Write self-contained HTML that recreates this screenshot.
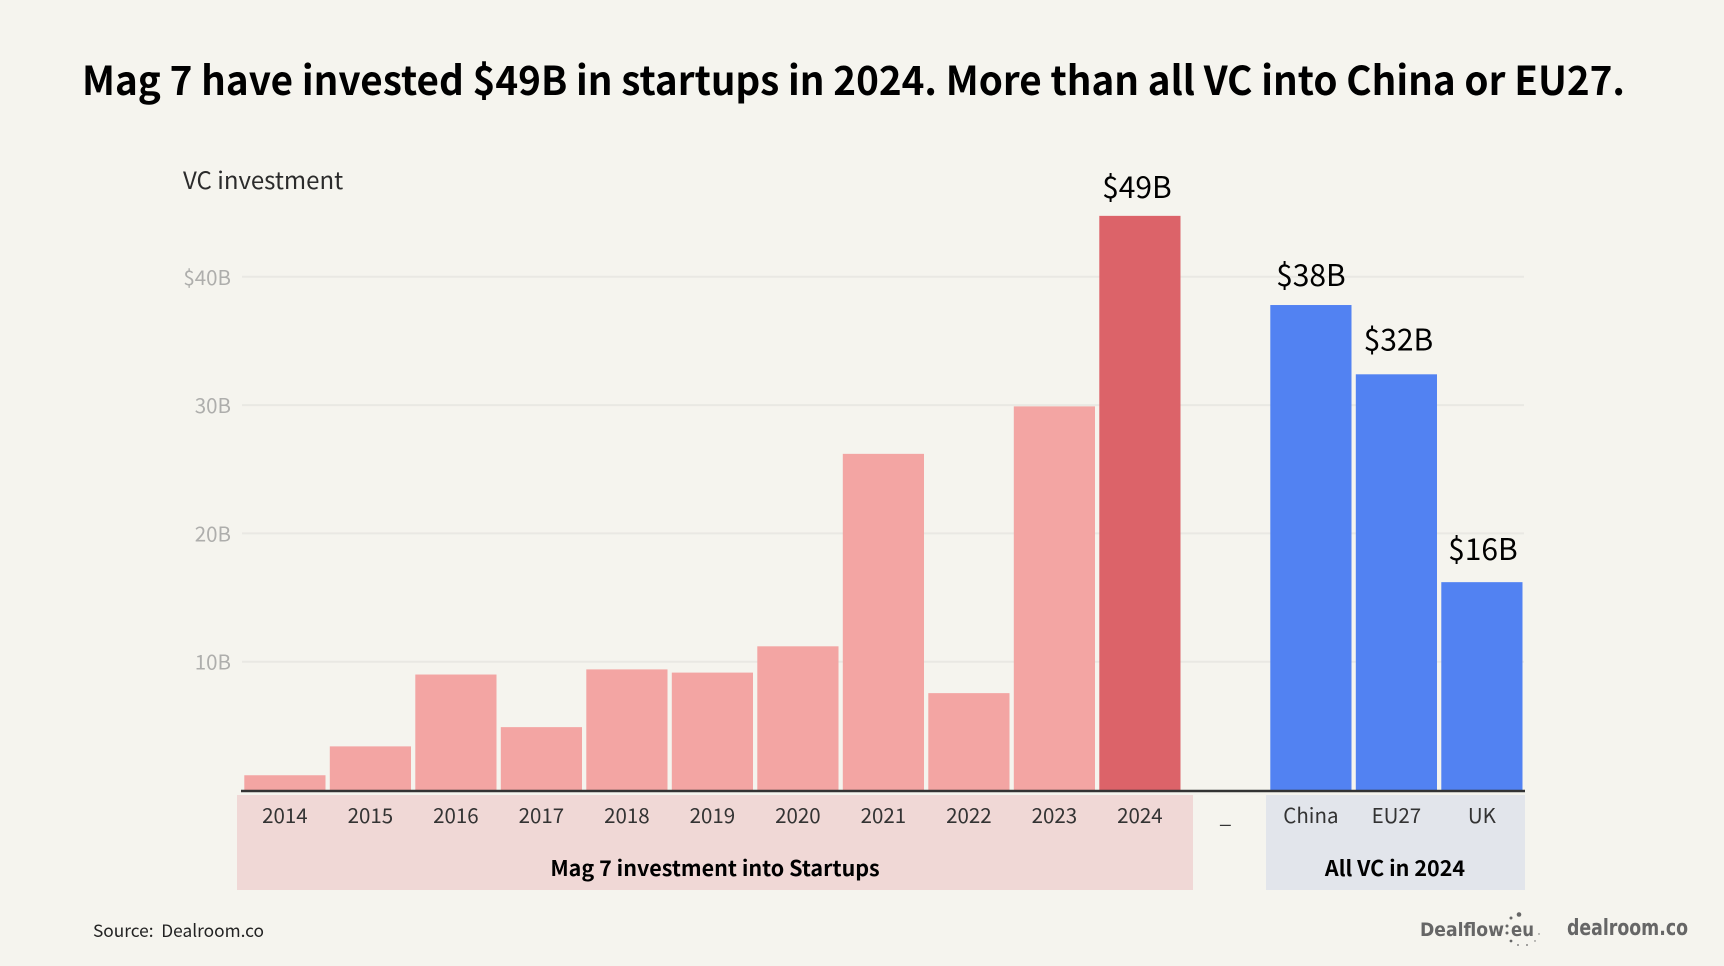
<!DOCTYPE html>
<html lang="en">
<head>
<meta charset="utf-8">
<title>Mag 7 VC investment</title>
<style>
html,body{margin:0;padding:0;background:#f5f4ee;}
svg{display:block;}
text{font-family:"Noto Sans CJK SC","Liberation Sans",sans-serif;}
</style>
</head>
<body>
<svg id="chart" xmlns="http://www.w3.org/2000/svg" width="1724" height="966" viewBox="0 0 1724 966"></svg>
<script>
const categories = ['2014','2015','2016','2017','2018','2019','2020','2021','2022','2023','2024','_','China','EU27','UK'];
const values = [1.15,3.4,9.0,4.9,9.4,9.15,11.2,26.2,7.55,29.9,44.75,null,37.8,32.4,16.2];
const valueLabels = ['','','','','','','','','','','$49B','','$38B','$32B','$16B'];
const groups = ['mag7','mag7','mag7','mag7','mag7','mag7','mag7','mag7','mag7','mag7','highlight','none','vc','vc','vc'];
const yTicks = [10,20,30,40];
const yTickLabels = ['10B','20B','30B','$40B'];

const NS = 'http://www.w3.org/2000/svg';
const svg = document.getElementById('chart');
const groupColor = {mag7:'#f3a5a3', highlight:'#dc6369', vc:'#5282f2'};
const labelStyle = {'2024':{lift:18,dx:-3},'China':{lift:19,dx:0},'EU27':{lift:24,dx:2},'UK':{lift:22,dx:1}};

function y(v){ return 790 - v * 12.83; }
function bandLeft(i){ return 244.3 + i * 85.5; }
const bandWidth = 81.2;
function bandCenter(i){ return bandLeft(i) + bandWidth / 2; }

function make(tag, attrs, parent, txt){
  const el = document.createElementNS(NS, tag);
  for (const k in attrs) el.setAttribute(k, attrs[k]);
  if (txt !== undefined) el.textContent = txt;
  (parent || svg).appendChild(el);
  return el;
}
let el;

el = make('rect',{x:0,y:0,width:1724,height:966,fill:'#f5f4ee'});



el = make('text',{x:82,y:95,'font-size':40,'font-weight':700,fill:'#000',textLength:1543,lengthAdjust:'spacingAndGlyphs'},svg,'Mag 7 have invested $49B in startups in 2024. More than all VC into China or EU27.');



el = make('text',{x:183,y:189,'font-size':24,fill:'#2b2b2b'},svg,'VC investment');



yTicks.forEach(function(t,i){
  const line = make('line',{x1:242,x2:1524,y1:y(t),y2:y(t),stroke:'#e9e8e3','stroke-width':2});
  
  
  const lab = make('text',{x:231,y:y(t)+8,'text-anchor':'end','font-size':20.5,fill:'#aeaeac'},svg,yTickLabels[i]);
  
  
});

el = make('rect',{x:237,y:795,width:956,height:95,fill:'#f0d8d6'});


el = make('rect',{x:1266,y:795,width:259,height:95,fill:'#e2e5eb'});



categories.forEach(function(c,i){
  const v = values[i];
  if (v !== null){
    const bar = make('rect',{x:bandLeft(i),y:y(v),width:bandWidth,height:y(0)-y(v),fill:groupColor[groups[i]]});
    
    
  }
  const t = make('text',{x:bandCenter(i),y:823,'text-anchor':'middle','font-size':20.5,fill:'#333'},svg,c);
  
  
  if (valueLabels[i]){
    const s = labelStyle[c];
    const l = make('text',{x:bandCenter(i)+s.dx,y:y(v)-s.lift,'text-anchor':'middle','font-size':30,fill:'#000'},svg,valueLabels[i]);
    
    
  }
});

el = make('line',{x1:241,x2:1525,y1:791,y2:791,stroke:'#333','stroke-width':2.5});



el = make('text',{x:715,y:876,'text-anchor':'middle','font-size':21.5,'font-weight':700,fill:'#000'},svg,'Mag 7 investment into Startups');


el = make('text',{x:1395,y:876,'text-anchor':'middle','font-size':21.5,'font-weight':700,fill:'#000'},svg,'All VC in 2024');



el = make('text',{x:93,y:937,'font-size':17.3,fill:'#222'},svg,'Source:\u00a0\u00a0Dealroom.co');



el = make('text',{x:1420,y:936,'font-size':19,'font-weight':700,fill:'#666',textLength:84,lengthAdjust:'spacingAndGlyphs',style:'font-family:"DejaVu Sans",sans-serif'},svg,'Dealflow');


el = make('text',{x:1511,y:936,'font-size':19,'font-weight':700,fill:'#666',textLength:23,lengthAdjust:'spacingAndGlyphs',style:'font-family:"DejaVu Sans",sans-serif'},svg,'eu');



const logoDots = make('g',{fill:'#666'});


[[1507,926,1.5],[1507,933,1.5],[1511,918,1.5],[1519,914.5,2.3],[1539,934,.7],[1511,941,1.4],[1518,945,.9],[1527,945,.9],[1535,941,.7]].forEach(function(d){
  make('circle',{cx:d[0],cy:d[1],r:d[2]},logoDots);
});

el = make('text',{x:1567,y:935,'font-size':22.5,'font-weight':700,fill:'#666',textLength:121,lengthAdjust:'spacingAndGlyphs',style:'font-family:"DejaVu Sans",sans-serif'},svg,'dealroom.co');


</script>
</body>
</html>
